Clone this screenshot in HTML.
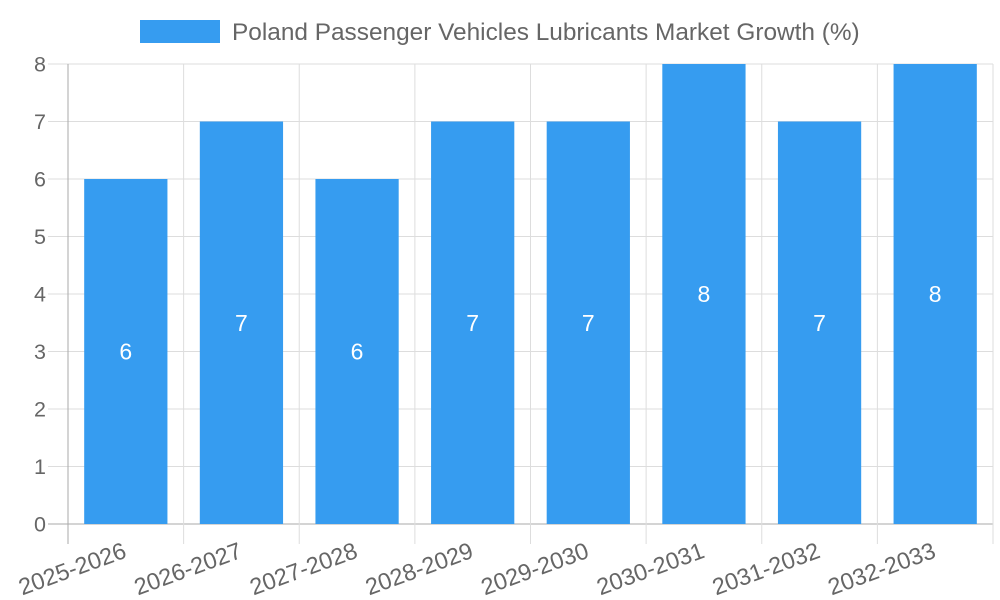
<!DOCTYPE html>
<html><head><meta charset="utf-8"><style>
body{margin:0;background:#fff}
svg{display:block;font-family:"Liberation Sans",sans-serif}
</style></head><body>
<svg id="c" width="1000" height="600">
<g>
<rect x="140" y="20" width="80" height="23" fill="#369cf0"/>
<text x="232" y="40" font-size="24.4" fill="#666">Poland Passenger Vehicles Lubricants Market Growth (%)</text>
</g>
</svg>
<script>
const categories=["2025-2026","2026-2027","2027-2028","2028-2029","2029-2030","2030-2031","2031-2032","2032-2033"];
const values=[6,7,6,7,7,8,7,8];
const yTicks=[0,1,2,3,4,5,6,7,8];
const svg=document.getElementById('c');const NS="http://www.w3.org/2000/svg";
const L=68,R=993,T=64,B=524,yMax=8;
const cw=(R-L)/categories.length;
const y=v=>B-(B-T)*v/yMax;
const x=i=>L+cw*i;
function mk(t,a,p){const e=document.createElementNS(NS,t);for(const k in a)e.setAttribute(k,a[k]);(p||svg).appendChild(e);return e;}
const grid=mk('g',{});


yTicks.forEach(v=>{
 const l=mk('line',{x1:48,x2:R,y1:y(v),y2:y(v),stroke:v===0?'#aaa':'#ddd','stroke-width':1},grid);
 
 
 const t=mk('text',{x:46,y:y(v)+7.5,'text-anchor':'end','font-size':21.5,fill:'#666'});
 t.textContent=v;
 
 
});
for(let i=0;i<=categories.length;i++){
 const l=mk('line',{x1:x(i),x2:x(i),y1:T,y2:B+20,stroke:i===0?'#aaa':'#ddd','stroke-width':1},grid);
 
 
}
const bw=cw*0.72;
values.forEach((v,i)=>{
 const cx=x(i)+cw/2;
 const r=mk('rect',{x:cx-bw/2,y:y(v),width:bw,height:B-y(v),fill:'#369cf0'});
 
 
 const t=mk('text',{x:cx,y:(y(v)+B)/2+8,'text-anchor':'middle','font-size':23,fill:'#fff'});
 t.textContent=v;
 
 
 const xl=mk('text',{x:0,y:0,'text-anchor':'end','font-size':23.5,fill:'#666',transform:`translate(${cx+2},${B+33}) rotate(-20)`});
 xl.textContent=categories[i];
 
 
});
mk('line',{x1:L,x2:L,y1:T,y2:B+20,stroke:'#aaa'});
</script>
</body></html>
